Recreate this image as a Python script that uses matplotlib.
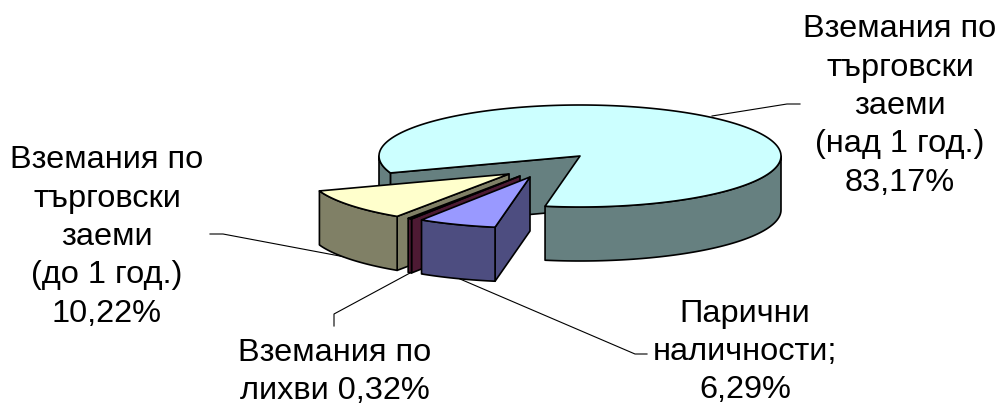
import numpy as np
import matplotlib
matplotlib.use("Agg")
import matplotlib.pyplot as plt
from matplotlib.patches import Polygon

plt.rcParams["font.family"] = ["Liberation Sans", "DejaVu Sans"]

# shares in percent, clockwise from the left edge of the large slice
shares = [83.17, 6.29, 0.32, 10.22]
labels = [
    "Вземания по\nтърговски\nзаеми\n(над 1 год.)\n83,17%",
    "Парични\nналичности;\n6,29%",
    "Вземания по\nлихви 0,32%",
    "Вземания по\nтърговски\nзаеми\n(до 1 год.)\n10,22%",
]
top_colors = ["#CCFFFF", "#9999FF", "#660033", "#FFFFCC"]
side_colors = ["#668080", "#4D4D80", "#4D1A33", "#808066"]

# slice offset from the pie centre, in pixels
explode = [(0, 0), (-50, 21), (-60, 20), (-71, 18)]
label_pos = [(900, 106), (745, 352), (335, 372), (107, 237)]
leaders = [
    [(712, 117), (787, 105), (800, 105)],
    [(460, 280), (635, 355), (647, 355)],
    [(334, 327), (334, 315), (410, 274)],
    [(210, 235), (223, 235), (345, 258)],
]

CX, CY = 580, 157
RX, RY = 201, 51
DEPTH = 54
START = 250.6


def pt(t, dx=0, dy=0):
    t = np.radians(t)
    return np.column_stack([CX + dx + RX * np.sin(t), CY + dy - RY * np.cos(t)])


def add_poly(ax, points, color):
    ax.add_patch(Polygon(points, fc=color, ec="black", lw=1.2, joinstyle="round"))


def rim(ax, t0, t1, dx, dy, color):
    # outer rim between two angles, only the part facing the viewer
    t0, t1 = max(t0, 90), min(t1, 270)
    if t1 <= t0:
        return
    top = pt(np.linspace(t0, t1, 80), dx, dy)
    add_poly(ax, np.vstack([top, top[::-1] + [0, DEPTH]]), color)


def draw_slice(ax, t0, t1, off, top_c, side_c):
    dx, dy = off
    apex = (CX + dx, CY + dy)
    a = pt(t0, dx, dy)[0]
    # cut face along the first edge, the other one faces away
    add_poly(ax, [apex, a, (a[0], a[1] + DEPTH), (apex[0], apex[1] + DEPTH)], side_c)
    rim(ax, t0, t1, dx, dy, side_c)
    rim(ax, t0 - 360, t1 - 360, dx, dy, side_c)
    add_poly(ax, np.vstack([[apex], pt(np.linspace(t0, t1, 240), dx, dy)]), top_c)


fig = plt.figure(figsize=(9.99, 4.06), dpi=100)
ax = fig.add_axes([0, 0, 1, 1])
ax.set_xlim(0, 999)
ax.set_ylim(406, 0)
ax.axis("off")

for line in leaders:
    xs, ys = zip(*line)
    ax.plot(xs, ys, color="black", lw=0.8, zorder=0)

# angles run clockwise from 12 o'clock
edges = START + np.cumsum([0] + shares) * 3.6

# large slice first, then the rest from back to front
for i in [0, 3, 2, 1]:
    draw_slice(ax, edges[i], edges[i + 1], explode[i], top_colors[i], side_colors[i])

for text, (x, y) in zip(labels, label_pos):
    ax.text(x, y, text, ha="center", va="center", fontsize=23.4, linespacing=1.36, color="black")

fig.savefig("out.png", dpi=100)
